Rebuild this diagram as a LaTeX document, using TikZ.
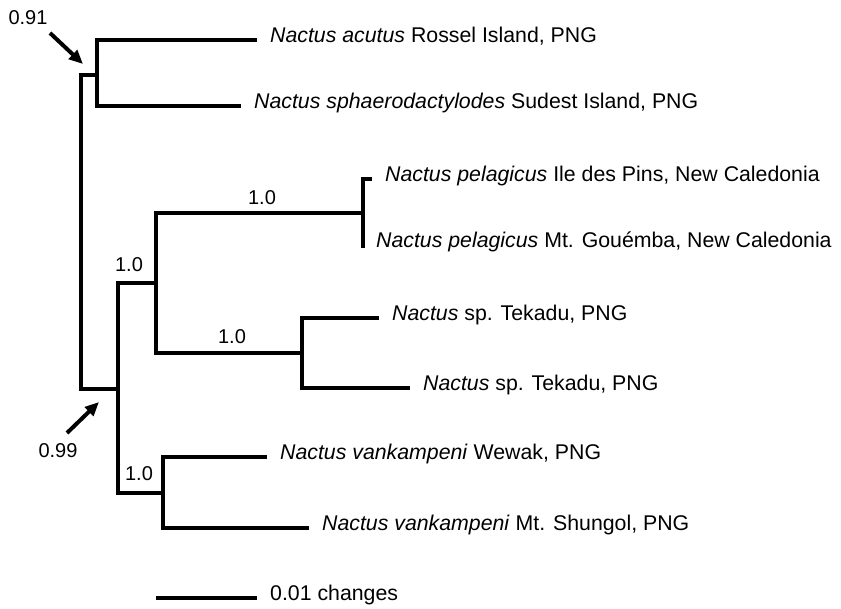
\documentclass[tikz,border=0pt]{standalone}
\usepackage{fontspec}
\setmainfont{Liberation Sans}
\usetikzlibrary{arrows.meta}

\begin{document}
\begin{tikzpicture}[x=1pt,y=-1pt,
	br/.style={line width=4pt,line join=miter},
	elbow/.style={to path={|- (\tikztotarget)}},
	tip/.style={anchor=mid west,inner xsep=13pt,inner ysep=0pt,font=\fontsize{21.3}{25}\selectfont},
	pp/.style={inner sep=0pt,font=\fontsize{20}{24}\selectfont},
	arr/.style={line width=4pt,-{Triangle[length=14pt,width=12pt]}}]
	\useasboundingbox (0,0) rectangle (841,609);
	% clade nodes
	\coordinate (r) at (81,232);
	\coordinate (a) at (97,75);
	\coordinate (b) at (118,389);
	\coordinate (d) at (156,283);
	\coordinate (e) at (363,213);
	\coordinate (f) at (302,353);
	\coordinate (c) at (163,493);
	% taxa
	\node[tip] (acu) at (257,40) {\textit{Nactus acutus} Rossel Island, PNG};
	\node[tip] (sph) at (241,106) {\textit{Nactus sphaerodactylodes} Sudest Island, PNG};
	\node[tip] (pel1) at (372,179) {\textit{Nactus pelagicus} Ile des Pins, New Caledonia};
	\node[tip,anchor=base west] (pel2) at (363,248) {\textit{Nactus pelagicus} Mt. Gouémba, New Caledonia};
	\node[tip] (tek1) at (379,318) {\textit{Nactus} sp. Tekadu, PNG};
	\node[tip] (tek2) at (410,388) {\textit{Nactus} sp. Tekadu, PNG};
	\node[tip] (van1) at (267,457) {\textit{Nactus vankampeni} Wewak, PNG};
	\node[tip] (van2) at (309,528) {\textit{Nactus vankampeni} Mt. Shungol, PNG};
	\path[br]
	(r) edge[elbow] (a)
	(r) edge[elbow] (b)
	(a) edge[elbow] (acu.mid west)
	(a) edge[elbow] (sph.mid west)
	(b) edge[elbow] (d)
	(b) edge[elbow] (c)
	(d) edge[elbow] (e)
	(d) edge[elbow] (f)
	(e) edge[elbow] (pel1.mid west)
	(e) edge[elbow] (pel2.base west)
	(f) edge[elbow] (tek1.mid west)
	(f) edge[elbow] (tek2.mid west)
	(c) edge[elbow] (van1.mid west)
	(c) edge[elbow] (van2.mid west);
	% support values
	\node[pp] (sd) at (129,265) {1.0};
	\node[pp] (se) at (262,198) {1.0};
	\node[pp] (sf) at (232,337) {1.0};
	\node[pp] (sc) at (139,474) {1.0};
	\node[pp] (l91) at (28,18) {0.91};
	\node[pp] (l99) at (58,451) {0.99};
	\coordinate (t91) at (50,33);
	\coordinate (h91) at (83,64);
	\coordinate (t99) at (67,433);
	\coordinate (h99) at (99,402);
	\draw[arr] (t91) -- (h91);
	\draw[arr] (t99) -- (h99);
	% scale bar
	\coordinate (s0) at (156,598);
	\node[tip] (bar) at (257,598) {0.01 changes};
	\draw[br] (s0) -- (bar.mid west);
\end{tikzpicture}
\end{document}
